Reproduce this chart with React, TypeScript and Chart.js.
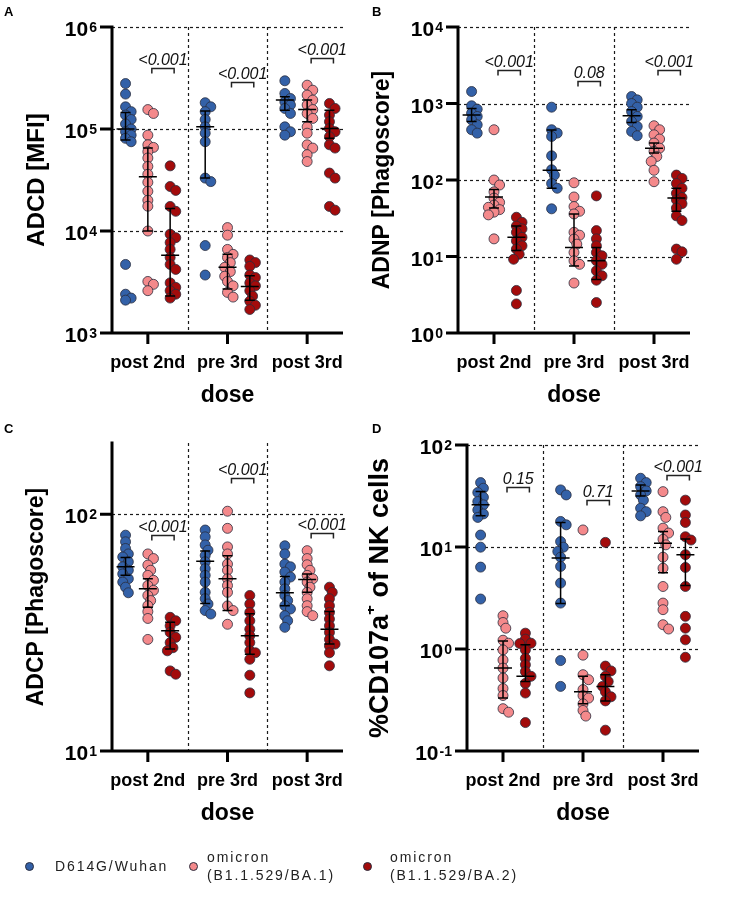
import React, { useEffect, useRef } from 'react';
import { Chart, registerables } from 'chart.js';
Chart.register(...registerables);

// ---------- shared ----------
const categories = ['post 2nd', 'pre 3rd', 'post 3rd'];
const seriesNames = ['D614G/Wuhan', 'omicron (B1.1.529/BA.1)', 'omicron (B1.1.529/BA.2)'];
const seriesColors = ['#3361a8', '#f4898b', '#a30b0b'];
const seriesOffsets = [-0.28, 0, 0.28];

// ---------- Panel A: ADCD [MFI] ----------
const adcdWuhan = [
  [279000, 220000, 165000, 148000, 137000, 124000, 112000, 100000, 94000, 87000, 81000, 75000, 4700, 2400, 2200, 2100],
  [181000, 165000, 148000, 124000, 105000, 91000, 75000, 33000, 30500, 7200, 3700],
  [297000, 223000, 199000, 185000, 172000, 159000, 142000, 105000, 94000, 87000],
];
const adcdBA1 = [
  [155000, 142000, 87000, 70000, 66000, 60000, 52000, 43000, 36000, 30000, 24500, 20000, 17500, 10000, 3200, 3000, 2600],
  [10800, 9100, 6600, 5900, 5500, 4900, 4400, 4000, 3600, 3200, 2900, 2500, 2250],
  [269000, 240000, 215000, 192000, 172000, 155000, 142000, 127000, 105000, 91000, 70000, 65000, 56000, 48000],
];
const adcdBA2 = [
  [43500, 27300, 25000, 17400, 15600, 9300, 8600, 7700, 6600, 5500, 4700, 4200, 3100, 2800, 2600, 2400, 2200],
  [5200, 4900, 4500, 3700, 3500, 3100, 2900, 2600, 2300, 2050, 1870, 1700],
  [178000, 159000, 137000, 118000, 101000, 94000, 84000, 70000, 65000, 37000, 33000, 17400, 16000],
];
// [q1, median, q3] per dose
const adcdWuhanStats = [[78000, 100000, 145000], [33000, 105000, 150000], [153000, 192000, 207000]];
const adcdBA1Stats = [[10000, 34000, 65000], [2700, 4400, 5900], [118000, 155000, 192000]];
const adcdBA2Stats = [[2300, 5800, 16600], [2100, 2850, 3650], [81000, 101000, 153000]];
const adcdBracketY = [392000, 286000, 500000];
const adcdP = ['<0.001', '<0.001', '<0.001'];

// ---------- Panel B: ADNP [Phagoscore] ----------
const adnpWuhan = [
  [1435, 933, 843, 748, 677, 612, 527, 454, 410],
  [895, 454, 410, 371, 207, 136, 116, 90, 78, 42],
  [1234, 1116, 1000, 896, 786, 677, 582, 501, 431, 379],
];
const adnpBA1 = [
  [454, 100, 86, 70, 58, 51, 47, 44, 41, 38, 35, 17],
  [92, 60, 45, 39, 36, 20.7, 19, 16.9, 14.5, 11.3, 8.8, 7.9, 4.5],
  [512, 454, 390, 343, 304, 261, 237, 203, 175, 134, 95],
];
const adnpBA2 = [
  [32.6, 28, 25, 23, 20.7, 17.8, 16, 13.8, 12.5, 10.7, 9.2, 3.6, 2.4],
  [62, 21.8, 17, 13.8, 11.3, 10.2, 8.8, 7.9, 6.5, 5.6, 4.9, 2.5],
  [116, 105, 90, 78, 67, 59, 55, 49, 43, 34, 29.5, 12.5, 11.5, 9.2],
];
const adnpWuhanStats = [[580, 710, 860], [78, 134, 450], [565, 690, 826]];
const adnpBA1Stats = [[43, 60, 75], [7.5, 13.1, 36], [226, 261, 304]];
const adnpBA2Stats = [[12, 17.8, 25], [5, 8.8, 13.1], [39, 58, 78]];
const adnpBracketY = [2750, 1940, 2750];
const adnpP = ['<0.001', '0.08', '<0.001'];

// ---------- Panel C: ADCP [Phagoscore] ----------
const adcpWuhan = [
  [81.6, 76.5, 71.7, 68, 66, 63, 60, 58, 56, 53.4, 51.7, 49.2, 46.6],
  [85.8, 80.3, 74.2, 70.5, 67, 63, 58.9, 55.2, 51.7, 46.8, 44, 41.8, 39.2, 37.9],
  [73.6, 68, 61.6, 60, 57, 54.3, 51.7, 48.4, 45.4, 43.2, 41.1, 39.8, 37.3, 35.5, 33.3],
];
const adcpBA1 = [
  [68, 65, 61, 58, 55.2, 52.6, 50, 47.7, 45.4, 43.2, 41.1, 38.8, 36.3, 29.6],
  [103, 87.2, 72.8, 68, 61.6, 58, 53.4, 50, 46.8, 41, 39.2, 34.3],
  [70.2, 65, 61.2, 58, 55.2, 53.4, 51.7, 49.2, 46.8, 44, 41.1, 38.8, 37.3],
];
const adcpBA2 = [
  [36.7, 35.5, 33.8, 31.7, 30.2, 28.7, 27.3, 26.5, 21.8, 21.1],
  [45.4, 41.8, 38.5, 35.5, 32.7, 30.7, 28.7, 26.5, 26, 24.4, 20.9, 17.6],
  [49.2, 46.8, 44, 41.1, 38.5, 36.1, 33.8, 31.7, 29.6, 28.3, 27.8, 26, 22.9],
];
const adcpWuhanStats = [[55.2, 60, 65.6], [42, 63.3, 70], [41.1, 46.6, 54.6]];
const adcpBA1Stats = [[40.5, 48.4, 53.4], [39.2, 53.4, 66.8], [46.8, 53, 56]];
const adcpBA2Stats = [[27, 32.2, 35], [25.6, 30.7, 38], [28.3, 32.7, 38.8]];
const adcpBracketY = [81.6, 142, 83];
const adcpP = ['<0.001', '<0.001', '<0.001'];

// ---------- Panel D: %CD107a+ of NK cells ----------
const nkWuhan = [
  [42.8, 37.7, 34.2, 30.7, 27.9, 25.9, 23.1, 21.1, 19.5, 13.1, 9.96, 6.35, 3.09],
  [36.3, 32.4, 17.8, 16.5, 11.3, 9.96, 9.04, 7.95, 6.45, 4.43, 2.82, 0.77, 0.43],
  [47.2, 42.8, 39.1, 35.5, 32.4, 28.8, 24, 22.2, 20.2],
];
const nkBA1 = [
  [2.12, 1.82, 1.6, 1.22, 1.14, 0.98, 0.78, 0.65, 0.52, 0.41, 0.35, 0.26, 0.24],
  [14.7, 0.87, 0.56, 0.5, 0.4, 0.35, 0.33, 0.29, 0.25, 0.22],
  [34.9, 22.2, 19.5, 15.3, 13.7, 11.9, 10.5, 7.95, 6.2, 4.1, 2.82, 2.43, 1.73, 1.57],
];
const nkBA2 = [
  [1.43, 1.25, 1.13, 1.14, 0.98, 0.81, 0.7, 0.6, 0.54, 0.46, 0.37, 0.19],
  [11.1, 0.68, 0.61, 0.54, 0.48, 0.43, 0.38, 0.34, 0.31, 0.16],
  [28.8, 20.6, 17.4, 12.6, 11.7, 8.4, 6.3, 4.1, 2.09, 1.6, 1.23, 0.83],
];
const nkWuhanStats = [[20.2, 25.9, 35], [2.8, 7.8, 17.4], [31.7, 35.5, 40.6]];
const nkBA1Stats = [[0.33, 0.65, 1.2], [0.29, 0.38, 0.54], [5.6, 10.9, 14.2]];
const nkBA2Stats = [[0.48, 0.54, 1.1], [0.31, 0.43, 0.56], [4.2, 8.4, 12]];
const nkBracketY = [39, 28.8, 50.8];
const nkP = ['0.15', '0.71', '<0.001'];

// ---------- layout ----------
const X_MIN = -0.45;
const X_MAX = 2.45;
const FONT = '"Liberation Sans", Arial, Helvetica, sans-serif';

type PanelDef = {
  letter: string;
  title: string[]; // [before sup, sup, after]
  titleSize: number;
  titleDx: number;
  box: { left: number; top: number; width: number; height: number };
  area: { left: number; right: number; top: number; bottom: number };
  yMin: number;
  yMax: number;
  exps: number[];
  series: number[][][];
  stats: number[][][];
  bracketY: number[];
  pvals: string[];
};

const panels: PanelDef[] = [
  {
    letter: 'A', title: ['ADCD [MFI]', '', ''], titleSize: 24, titleDx: 75,
    box: { left: 0, top: 0, width: 368, height: 430 },
    area: { left: 112, right: 343, top: 27, bottom: 333 },
    yMin: 1e3, yMax: 1e6, exps: [3, 4, 5, 6],
    series: [adcdWuhan, adcdBA1, adcdBA2], stats: [adcdWuhanStats, adcdBA1Stats, adcdBA2Stats],
    bracketY: adcdBracketY, pvals: adcdP,
  },
  {
    letter: 'B', title: ['ADNP [Phagoscore]', '', ''], titleSize: 23, titleDx: 75,
    box: { left: 368, top: 0, width: 368, height: 430 },
    area: { left: 90, right: 322, top: 27, bottom: 333 },
    yMin: 1, yMax: 1e4, exps: [0, 1, 2, 3, 4],
    series: [adnpWuhan, adnpBA1, adnpBA2], stats: [adnpWuhanStats, adnpBA1Stats, adnpBA2Stats],
    bracketY: adnpBracketY, pvals: adnpP,
  },
  {
    letter: 'C', title: ['ADCP [Phagoscore]', '', ''], titleSize: 23, titleDx: 75,
    box: { left: 0, top: 415, width: 368, height: 445 },
    area: { left: 112, right: 343, top: 28, bottom: 336 },
    yMin: 10, yMax: 200, exps: [1, 2],
    series: [adcpWuhan, adcpBA1, adcpBA2], stats: [adcpWuhanStats, adcpBA1Stats, adcpBA2Stats],
    bracketY: adcpBracketY, pvals: adcpP,
  },
  {
    letter: 'D', title: ['%CD107a', '+', ' of NK cells'], titleSize: 27, titleDx: 86,
    box: { left: 368, top: 415, width: 368, height: 445 },
    area: { left: 99, right: 331, top: 30, bottom: 336 },
    yMin: 0.1, yMax: 100, exps: [-1, 0, 1, 2],
    series: [nkWuhan, nkBA1, nkBA2], stats: [nkWuhanStats, nkBA1Stats, nkBA2Stats],
    bracketY: nkBracketY, pvals: nkP,
  },
];

// beeswarm-style horizontal spread (pixel based), returned in x-axis units
function swarmOffsets(values: number[], pxPerDecade: number, unitPx: number): number[] {
  const minDist = 5.8;
  const step = 2.8;
  const order = values.map((_, i) => i).sort((a, b) => values[b] - values[a]);
  const placed: { x: number; y: number }[] = [];
  const out = new Array(values.length).fill(0);
  for (const i of order) {
    const y = Math.log10(values[i]) * pxPerDecade;
    for (let k = 0; k < 30; k++) {
      const m = k === 0 ? 0 : k % 2 === 1 ? (k + 1) / 2 : -k / 2;
      const x = m * step;
      if (placed.every((p) => Math.hypot(p.x - x, p.y - y) >= minDist)) {
        placed.push({ x, y });
        out[i] = x / unitPx;
        break;
      }
    }
  }
  return out;
}

function makePlugin(p: PanelDef) {
  return {
    id: 'panelDecor' + p.letter,
    beforeDatasetsDraw(chart: any) {
      const { ctx, chartArea: a, scales } = chart;
      const x = scales.x, y = scales.y;
      ctx.save();
      ctx.setLineDash([3, 3]);
      ctx.lineWidth = 1.2;
      ctx.strokeStyle = '#1a1a1a';
      for (const e of p.exps) {
        const v = Math.pow(10, e);
        if (v <= p.yMin) continue;
        const py = Math.round(y.getPixelForValue(v)) + 0.5;
        ctx.beginPath(); ctx.moveTo(a.left, py); ctx.lineTo(a.right, py); ctx.stroke();
      }
      for (const s of [0.5, 1.5]) {
        const px = Math.round(x.getPixelForValue(s)) + 0.5;
        ctx.beginPath(); ctx.moveTo(px, a.top); ctx.lineTo(px, a.bottom); ctx.stroke();
      }
      ctx.restore();
    },
    afterDatasetsDraw(chart: any) {
      const { ctx, chartArea: a, scales } = chart;
      const x = scales.x, y = scales.y;
      ctx.save();
      // median + IQR bars
      ctx.strokeStyle = '#000';
      ctx.lineWidth = 1.5;
      p.stats.forEach((st, si) => {
        st.forEach(([q1, med, q3], gi) => {
          const cx = x.getPixelForValue(gi + seriesOffsets[si]);
          const y1 = y.getPixelForValue(q1);
          const ym = y.getPixelForValue(med);
          const y3 = y.getPixelForValue(q3);
          ctx.beginPath();
          ctx.moveTo(cx, y3); ctx.lineTo(cx, y1);
          ctx.moveTo(cx - 5, y1); ctx.lineTo(cx + 5, y1);
          ctx.moveTo(cx - 5, y3); ctx.lineTo(cx + 5, y3);
          ctx.moveTo(cx - 9, ym); ctx.lineTo(cx + 9, ym);
          ctx.stroke();
        });
      });
      // significance brackets
      ctx.lineWidth = 1.5;
      ctx.strokeStyle = '#222';
      ctx.fillStyle = '#111';
      ctx.font = 'italic 16px ' + FONT;
      ctx.textAlign = 'center';
      ctx.textBaseline = 'alphabetic';
      p.bracketY.forEach((bv, gi) => {
        const x1 = x.getPixelForValue(gi + 0.05);
        const x2 = x.getPixelForValue(gi + 0.33);
        const yb = Math.round(y.getPixelForValue(bv)) + 0.5;
        ctx.beginPath();
        ctx.moveTo(x1, yb + 5); ctx.lineTo(x1, yb); ctx.lineTo(x2, yb); ctx.lineTo(x2, yb + 5);
        ctx.stroke();
        ctx.fillText(p.pvals[gi], (x1 + x2) / 2, yb - 4);
      });
      // axes
      ctx.strokeStyle = '#000';
      ctx.fillStyle = '#000';
      ctx.lineWidth = 3;
      ctx.lineCap = 'butt';
      ctx.beginPath();
      ctx.moveTo(a.left, a.top - 1.5); ctx.lineTo(a.left, a.bottom + 1.5);
      ctx.moveTo(a.left, a.bottom); ctx.lineTo(a.right, a.bottom);
      for (const e of p.exps) {
        const py = y.getPixelForValue(Math.pow(10, e));
        ctx.moveTo(a.left - 12, py); ctx.lineTo(a.left, py);
      }
      for (let gi = 0; gi < categories.length; gi++) {
        const px = x.getPixelForValue(gi);
        ctx.moveTo(px, a.bottom); ctx.lineTo(px, a.bottom + 11);
      }
      ctx.stroke();
      // y tick labels 10^n
      for (const e of p.exps) {
        const py = y.getPixelForValue(Math.pow(10, e));
        const expStr = e < 0 ? '-' + String(-e) : String(e);
        ctx.font = 'bold 14px ' + FONT;
        const ew = ctx.measureText(expStr).width;
        const xr = a.left - 15;
        ctx.textAlign = 'left';
        ctx.textBaseline = 'alphabetic';
        ctx.fillText(expStr, xr - ew, py + 5);
        ctx.font = 'bold 21px ' + FONT;
        ctx.textAlign = 'right';
        ctx.fillText('10', xr - ew - 1, py + 9);
      }
      // x tick labels
      ctx.font = 'bold 18px ' + FONT;
      ctx.textAlign = 'center';
      ctx.textBaseline = 'middle';
      categories.forEach((c, gi) => {
        ctx.fillText(c, x.getPixelForValue(gi), a.bottom + 30);
      });
      // x title
      ctx.font = 'bold 23px ' + FONT;
      ctx.fillText('dose', (a.left + a.right) / 2, a.bottom + 63);
      // y title (rotated)
      ctx.save();
      ctx.translate(a.left - p.titleDx, (a.top + a.bottom) / 2);
      ctx.rotate(-Math.PI / 2);
      ctx.textBaseline = 'middle';
      ctx.textAlign = 'left';
      const big = 'bold ' + p.titleSize + 'px ' + FONT;
      const small = 'bold ' + Math.round(p.titleSize * 0.62) + 'px ' + FONT;
      ctx.font = big;
      const w0 = ctx.measureText(p.title[0]).width;
      const w2 = ctx.measureText(p.title[2]).width;
      ctx.font = small;
      const w1 = ctx.measureText(p.title[1]).width;
      let cx = -(w0 + w1 + w2) / 2;
      ctx.font = big;
      ctx.fillText(p.title[0], cx, 0);
      cx += w0;
      if (p.title[1]) {
        ctx.font = small;
        ctx.fillText(p.title[1], cx, -p.titleSize * 0.38);
        cx += w1;
      }
      if (p.title[2]) {
        ctx.font = big;
        ctx.fillText(p.title[2], cx, 0);
      }
      ctx.restore();
      // panel letter
      ctx.font = 'bold 13px ' + FONT;
      ctx.textAlign = 'left';
      ctx.textBaseline = 'alphabetic';
      ctx.fillText(p.letter, 4, p.box.top === 0 ? 16 : 18);
      ctx.restore();
    },
  };
}

function Panel({ def }: { def: PanelDef }) {
  const ref = useRef<HTMLCanvasElement | null>(null);
  useEffect(() => {
    const canvas = ref.current;
    if (!canvas) return;
    const a = def.area;
    const pxPerDecade = (a.bottom - a.top) / (Math.log10(def.yMax) - Math.log10(def.yMin));
    const unitPx = (a.right - a.left) / (X_MAX - X_MIN);
    const datasets = def.series.map((groups, si) => {
      const pts: { x: number; y: number }[] = [];
      groups.forEach((vals, gi) => {
        const offs = swarmOffsets(vals, pxPerDecade, unitPx);
        vals.forEach((v, i) => pts.push({ x: gi + seriesOffsets[si] + offs[i], y: v }));
      });
      return {
        label: seriesNames[si],
        data: pts,
        backgroundColor: seriesColors[si],
        borderColor: '#2a2d3e',
        borderWidth: 0.8,
        pointRadius: 5,
        pointHoverRadius: 5,
        clip: false as any,
      };
    });
    const chart = new Chart(canvas, {
      type: 'scatter',
      data: { datasets },
      options: {
        animation: false,
        responsive: false,
        events: [],
        layout: {
          padding: {
            left: a.left,
            right: def.box.width - a.right,
            top: a.top,
            bottom: def.box.height - a.bottom,
          },
        },
        plugins: { legend: { display: false }, tooltip: { enabled: false } },
        scales: {
          x: { type: 'linear', min: X_MIN, max: X_MAX, display: false },
          y: { type: 'logarithmic', min: def.yMin, max: def.yMax, display: false },
        },
      },
      plugins: [makePlugin(def)],
    });
    return () => chart.destroy();
  }, [def]);
  return (
    <canvas
      ref={ref}
      width={def.box.width}
      height={def.box.height}
      style={{ position: 'absolute', left: def.box.left, top: def.box.top, width: def.box.width, height: def.box.height }}
    />
  );
}

const legendItems = [
  { lines: ['D614G/Wuhan'], dotX: 29, textX: 55 },
  { lines: ['omicron', '(B1.1.529/BA.1)'], dotX: 193, textX: 207 },
  { lines: ['omicron', '(B1.1.529/BA.2)'], dotX: 367, textX: 390 },
];

export default function App() {
  return (
    <div style={{ position: 'absolute', left: 0, top: 0, width: 736, height: 897, background: '#fff', overflow: 'hidden' }}>
      {panels.map((p) => (
        <Panel key={p.letter} def={p} />
      ))}
      {legendItems.map((it, i) => (
        <React.Fragment key={i}>
          <div
            style={{
              position: 'absolute', left: it.dotX - 4.5, top: 866 - 4.5, width: 9, height: 9,
              borderRadius: '50%', background: seriesColors[i], boxSizing: 'border-box',
              border: '0.8px solid #2a2d3e',
            }}
          />
          <div
            style={{
              position: 'absolute', left: it.textX, top: 866 - 9 * it.lines.length,
              fontFamily: FONT, fontSize: 14, letterSpacing: '1.9px', lineHeight: '18px',
              color: '#222', whiteSpace: 'nowrap',
            }}
          >
            {it.lines.map((l, j) => (
              <div key={j}>{l}</div>
            ))}
          </div>
        </React.Fragment>
      ))}
    </div>
  );
}
